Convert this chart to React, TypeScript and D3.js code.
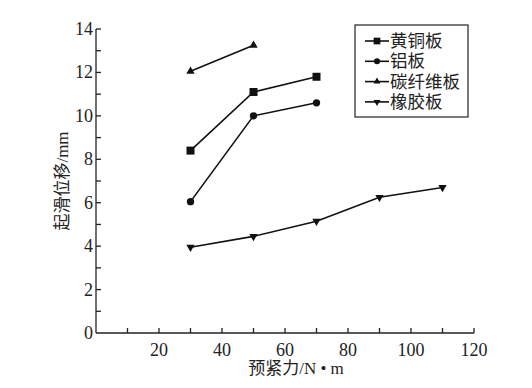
import React, { useEffect, useRef } from 'react';
import * as d3 from 'd3';

// preload torque (N·m)
const brassX = [30, 50, 70];
const brassY = [8.4, 11.1, 11.8];
const aluX = [30, 50, 70];
const aluY = [6.05, 10.0, 10.6];
const carbonX = [30, 50];
const carbonY = [12.05, 13.25];
const rubberX = [30, 50, 70, 90, 110];
const rubberY = [3.95, 4.45, 5.15, 6.25, 6.7];

const seriesNames = ['黄铜板', '铝板', '碳纤维板', '橡胶板'];
const xTicks = [20, 40, 60, 80, 100, 120];
const yTicks = [0, 2, 4, 6, 8, 10, 12, 14];

const W = 532;
const H = 388;

const App: React.FC = () => {
  const ref = useRef<SVGSVGElement | null>(null);

  useEffect(() => {
    if (!ref.current) return;
    const svg = d3.select(ref.current);
    svg.selectAll('*').remove();

    const x = d3.scaleLinear().domain([0, 120]).range([96, 474]);
    const y = d3.scaleLinear().domain([0, 14]).range([333, 29]);
    const font = '"Liberation Serif", "Times New Roman", "Noto Sans CJK SC", serif';
    const cjk = '"Noto Sans CJK SC", sans-serif';

    // axes, ticks point inward
    const g = svg.append('g').attr('stroke', '#222').attr('stroke-width', 1.3);
    g.append('line').attr('x1', x(0)).attr('x2', x(120)).attr('y1', y(0)).attr('y2', y(0));
    g.append('line').attr('x1', x(0)).attr('x2', x(0)).attr('y1', y(0)).attr('y2', y(14));
    d3.range(10, 121, 10).forEach(v => {
      g.append('line').attr('x1', x(v)).attr('x2', x(v)).attr('y1', y(0)).attr('y2', y(0) - 5);
    });
    d3.range(1, 15, 1).forEach(v => {
      g.append('line').attr('x1', x(0)).attr('x2', x(0) + 5).attr('y1', y(v)).attr('y2', y(v));
    });

    svg.selectAll('.xt').data(xTicks).enter().append('text')
      .attr('x', d => x(d)).attr('y', y(0) + 23)
      .attr('text-anchor', 'middle').attr('font-family', font).attr('font-size', 18)
      .attr('fill', '#222').text(d => d);
    svg.selectAll('.yt').data(yTicks).enter().append('text')
      .attr('x', x(0) - 3).attr('y', d => y(d) + 6)
      .attr('text-anchor', 'end').attr('font-family', font).attr('font-size', 18)
      .attr('fill', '#222').text(d => d);

    // axis titles
    svg.append('text').attr('x', 296).attr('y', 374).attr('text-anchor', 'middle')
      .attr('font-family', font).attr('font-size', 17).attr('fill', '#222')
      .text('预紧力/N • m');
    svg.append('text').attr('transform', `translate(68,${y(7)}) rotate(-90)`)
      .attr('text-anchor', 'middle').attr('font-family', font).attr('font-size', 17)
      .attr('fill', '#222').text('起滑位移/mm');

    const sym = [d3.symbolSquare, d3.symbolCircle, d3.symbolTriangle, d3.symbolTriangle];
    const sizes = [64, 42, 30, 30];
    const rot = [0, 0, 0, 180];
    const data: [number[], number[]][] = [
      [brassX, brassY], [aluX, aluY], [carbonX, carbonY], [rubberX, rubberY],
    ];
    const line = d3.line<[number, number]>().x(d => x(d[0])).y(d => y(d[1]));

    data.forEach(([xs, ys], i) => {
      const pts = xs.map((v, k) => [v, ys[k]] as [number, number]);
      svg.append('path').attr('d', line(pts)).attr('fill', 'none')
        .attr('stroke', '#111').attr('stroke-width', 1.6);
      svg.selectAll(`.m${i}`).data(pts).enter().append('path')
        .attr('d', d3.symbol(sym[i], sizes[i])())
        .attr('transform', d => `translate(${x(d[0])},${y(d[1])}) rotate(${rot[i]})`)
        .attr('fill', '#111');
    });

    // legend
    const lg = svg.append('g');
    lg.append('rect').attr('x', 355).attr('y', 25).attr('width', 113).attr('height', 92)
      .attr('fill', 'white').attr('stroke', '#222').attr('stroke-width', 1.2);
    seriesNames.forEach((name, i) => {
      const cy = 41 + i * 20.3;
      lg.append('line').attr('x1', 365).attr('x2', 389).attr('y1', cy).attr('y2', cy)
        .attr('stroke', '#111').attr('stroke-width', 1.6);
      lg.append('path').attr('d', d3.symbol(sym[i], sizes[i] * 0.7)())
        .attr('transform', `translate(377,${cy}) rotate(${rot[i]})`).attr('fill', '#111');
      lg.append('text').attr('x', 390).attr('y', cy + 6).attr('font-family', cjk)
        .attr('font-size', 17.5).attr('fill', '#222').text(name);
    });
  }, []);

  return (
    <svg ref={ref} width={W} height={H}
      style={{ position: 'absolute', left: 0, top: 0, background: 'white' }} />
  );
};

export default App;
